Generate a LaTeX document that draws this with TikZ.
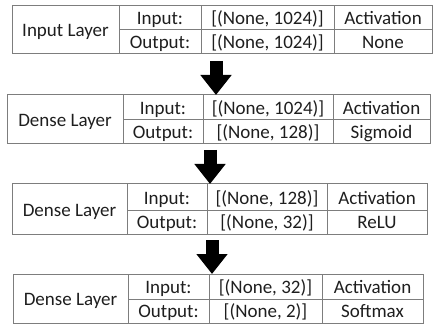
\documentclass[tikz,border=0pt]{standalone}
\usepackage{fontspec}
\setmainfont{Carlito}
\usetikzlibrary{arrows.meta}
\definecolor{gridc}{RGB}{125,125,125}
\definecolor{txtc}{RGB}{30,30,30}
\begin{document}
\begin{tikzpicture}[x=1pt,y=1pt,
  tab/.style={draw=gridc,line width=1pt},
  txt/.style={inner sep=0pt,anchor=base,text=txtc,font=\fontsize{19}{22}\selectfont},
  blockarrow/.style={line width=13pt,-{Triangle[width=30pt,length=20pt]},black}]
\useasboundingbox (0,0) rectangle (433,324);
% ---------- Table 1 ----------
\draw[tab] (12,270) rectangle (432,318.5);
\draw[tab] (119,294) -- (432,294);
\draw[tab] (119,270) -- (119,318.5);
\draw[tab] (201,270) -- (201,318.5);
\draw[tab] (334,270) -- (334,318.5);
\node[txt] (t1n) at (65.5,287.3) {Input Layer};
\node[txt] (t1i) at (160,299.2) {Input:};
\node[txt] (t1o) at (160,275.2) {Output:};
\node[txt] (t1a) at (267.5,299.2) {[(None, 1024)]};
\node[txt] (t1b) at (267.5,275.2) {[(None, 1024)]};
\node[txt] (t1c) at (383,299.2) {Activation};
\node[txt] (t1d) at (383,275.2) {None};
% ---------- Table 2 ----------
\draw[tab] (7,180) rectangle (430,229);
\draw[tab] (123,204) -- (430,204);
\draw[tab] (123,180) -- (123,229);
\draw[tab] (203,180) -- (203,229);
\draw[tab] (333,180) -- (333,229);
\node[txt] (t2n) at (65,197.5) {Dense Layer};
\node[txt] (t2i) at (163,209.2) {Input:};
\node[txt] (t2o) at (163,185.2) {Output:};
\node[txt] (t2a) at (268,209.2) {[(None, 1024)]};
\node[txt] (t2b) at (268,185.2) {[(None, 128)]};
\node[txt] (t2c) at (381.5,209.2) {Activation};
\node[txt] (t2d) at (381.5,185.2) {Sigmoid};
% ---------- Table 3 ----------
\draw[tab] (12,90) rectangle (427,140);
\draw[tab] (127,114) -- (427,114);
\draw[tab] (127,90) -- (127,140);
\draw[tab] (207,90) -- (207,140);
\draw[tab] (327,90) -- (327,140);
\node[txt] (t3n) at (69.5,108) {Dense Layer};
\node[txt] (t3i) at (167,119.2) {Input:};
\node[txt] (t3o) at (167,95.2) {Output:};
\node[txt] (t3a) at (267,119.2) {[(None, 128)]};
\node[txt] (t3b) at (267,95.2) {[(None, 32)]};
\node[txt] (t3c) at (377,119.2) {Activation};
\node[txt] (t3d) at (377,95.2) {ReLU};
% ---------- Table 4 ----------
\draw[tab] (13,1) rectangle (423,50);
\draw[tab] (128,25) -- (423,25);
\draw[tab] (128,1) -- (128,50);
\draw[tab] (209,1) -- (209,50);
\draw[tab] (322,1) -- (322,50);
\node[txt] (t4n) at (70.5,18.5) {Dense Layer};
\node[txt] (t4i) at (168.5,30.2) {Input:};
\node[txt] (t4o) at (168.5,6.2) {Output:};
\node[txt] (t4a) at (265.5,30.2) {[(None, 32)]};
\node[txt] (t4b) at (265.5,6.2) {[(None, 2)]};
\node[txt] (t4c) at (372.5,30.2) {Activation};
\node[txt] (t4d) at (372.5,6.2) {Softmax};
% ---------- Arrows ----------
\coordinate (a1s) at (216,263);
\coordinate (a1e) at (216,229);
\coordinate (a2s) at (210,174);
\coordinate (a2e) at (210,140);
\coordinate (a3s) at (212,84);
\coordinate (a3e) at (212,50);
\draw[blockarrow] (a1s) -- (a1e);
\draw[blockarrow] (a2s) -- (a2e);
\draw[blockarrow] (a3s) -- (a3e);
\end{tikzpicture}
\end{document}
